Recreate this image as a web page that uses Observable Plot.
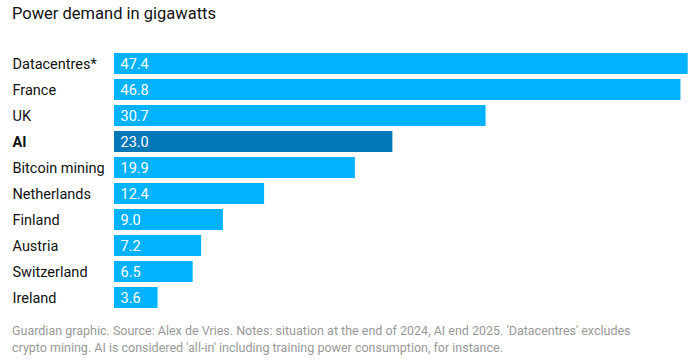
<!DOCTYPE html>
<html>
<head>
<meta charset="utf-8">
<script src="https://cdn.jsdelivr.net/npm/d3@7"></script>
<script src="https://cdn.jsdelivr.net/npm/@observablehq/plot@0.6"></script>
<style>
  html, body { margin: 0; padding: 0; background: #fff; }
  #wrap { position: relative; width: 700px; height: 363px; overflow: hidden; font-family: Roboto, "Noto Sans", sans-serif; }
  #title { position: absolute; left: 12px; top: 4px; font-size: 16.5px; color: #121212; white-space: nowrap; }
  #chart { position: absolute; left: 0; top: 43px; }
  #caption { position: absolute; left: 12px; top: 322px; font-size: 12.5px; line-height: 17px; color: #999; white-space: nowrap; }
</style>
</head>
<body>
<div id="wrap">
  <div id="title">Power demand in gigawatts</div>
  <div id="chart"></div>
  <div id="caption">Guardian graphic. Source: Alex de Vries. Notes: situation at the end of 2024, AI end 2025. 'Datacentres' excludes<br>crypto mining. AI is considered 'all-in' including training power consumption, for instance.</div>
</div>
<script>
const categories = ["Datacentres*", "France", "UK", "AI", "Bitcoin mining", "Netherlands", "Finland", "Austria", "Switzerland", "Ireland"];
const values = [47.4, 46.8, 30.7, 23.0, 19.9, 12.4, 9.0, 7.2, 6.5, 3.6];
const highlight = ["AI"];

const data = categories.map((c, i) => ({name: c, value: values[i], hl: highlight.includes(c)}));

const chart = Plot.plot({
  width: 700,
  height: 274,
  marginTop: 8.7,
  marginBottom: 7.6,
  marginLeft: 114,
  marginRight: 12.3,
  style: {fontFamily: "Roboto, 'Noto Sans', sans-serif", background: "transparent"},
  x: {domain: [0, 47.4], axis: null},
  y: {domain: categories, padding: 0.2, paddingOuter: 0, axis: null},
  marks: [
    Plot.barX(data, {y: "name", x: "value", fill: d => d.hl ? "#0077b6" : "#00b2ff"}),
    Plot.text(data, {y: "name", x: 0, text: d => d.value.toFixed(1), textAnchor: "start", dx: 6, fill: "white", fontSize: 14.5}),
    Plot.text(data.filter(d => !d.hl), {y: "name", frameAnchor: "left", text: "name", textAnchor: "start", dx: -102, fill: "#121212", fontSize: 14.5}),
    Plot.text(data.filter(d => d.hl), {y: "name", frameAnchor: "left", text: "name", textAnchor: "start", dx: -102, fill: "#121212", fontSize: 14.5, fontWeight: "bold"})
  ]
});
document.getElementById("chart").appendChild(chart);
</script>
</body>
</html>
